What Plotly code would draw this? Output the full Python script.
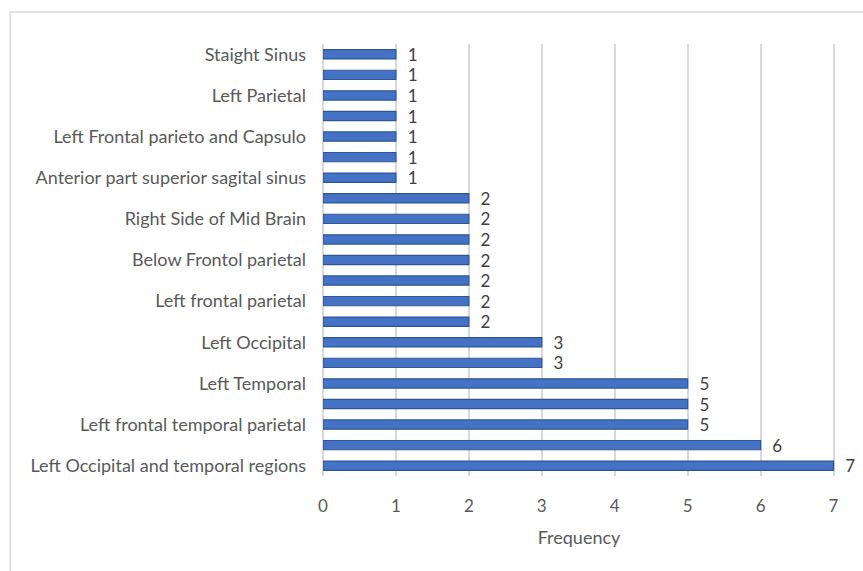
import plotly.graph_objects as go

# Lesion sites, listed from the bottom bar to the top bar.
# Only every other site carries a visible axis label.
regions = [
    "Left Occipital and temporal regions", "",
    "Left frontal temporal parietal", "",
    "Left Temporal", "",
    "Left Occipital", "",
    "Left frontal parietal", "",
    "Below Frontol parietal", "",
    "Right Side of Mid Brain", "",
    "Anterior part superior sagital sinus", "",
    "Left Frontal parieto and Capsulo", "",
    "Left Parietal", "",
    "Staight Sinus",
]
frequency = [7, 6, 5, 5, 5, 3, 3, 2, 2, 2, 2, 2, 2, 2, 1, 1, 1, 1, 1, 1, 1]
x_ticks = [0, 1, 2, 3, 4, 5, 6, 7]

positions = list(range(len(regions)))
label_pos = [p for p, r in zip(positions, regions) if r]
label_txt = [r for r in regions if r]

FONT = "Lato, Open Sans, sans-serif"
GREY = "#595959"
PAD = "\u00a0\u00a0"  # gap between bar end and its value label

fig = go.Figure(
    go.Bar(
        x=frequency,
        y=positions,
        orientation="h",
        width=0.45,
        marker=dict(color="#4472C4", line=dict(color="#2F5597", width=1.2)),
        text=[PAD + str(v) for v in frequency],
        textposition="outside",
        constraintext="none",
        textfont=dict(family=FONT, size=17, color="#404040"),
        cliponaxis=False,
        hoverinfo="x+y",
    )
)

fig.update_layout(
    width=863,
    height=571,
    margin=dict(l=323, r=28, t=44, b=95),
    paper_bgcolor="white",
    plot_bgcolor="white",
    showlegend=False,
    font=dict(family=FONT, color=GREY, size=17),
    xaxis=dict(
        range=[0, 7.02],
        tickvals=x_ticks,
        ticktext=[str(t) for t in x_ticks],
        showgrid=True,
        gridcolor="#D9D9D9",
        gridwidth=2,
        zeroline=True,
        zerolinecolor="#D9D9D9",
        zerolinewidth=2,
        showline=False,
        ticks="",
        ticklabelstandoff=18,
        tickfont=dict(family=FONT, size=17, color=GREY),
        title=dict(text="Frequency", font=dict(family=FONT, size=18, color=GREY), standoff=16),
        fixedrange=True,
    ),
    yaxis=dict(
        range=[-0.5, len(regions) - 0.5],
        tickvals=label_pos,
        ticktext=label_txt,
        showgrid=False,
        zeroline=False,
        showline=False,
        ticks="",
        ticklabelstandoff=16,
        tickfont=dict(family=FONT, size=18, color=GREY),
        fixedrange=True,
    ),
    bargap=0.5,
    shapes=[
        dict(
            type="rect",
            xref="paper",
            yref="paper",
            x0=-0.611,
            x1=1.08,
            y0=-0.3,
            y1=1.074,
            line=dict(color="#D9D9D9", width=1.5),
            fillcolor="rgba(0,0,0,0)",
            layer="below",
        )
    ],
)

fig.write_html("out.html")
